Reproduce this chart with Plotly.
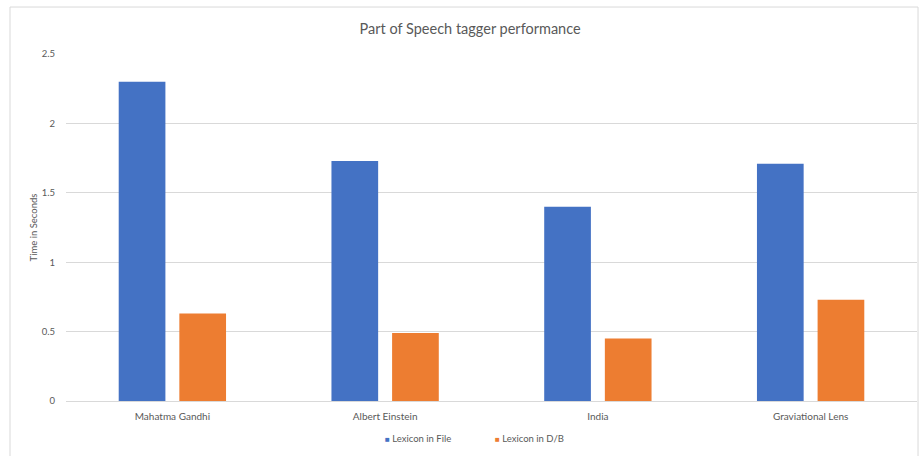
import plotly.graph_objects as go

categories = ["Mahatma Gandhi", "Albert Einstein", "India", "Graviational Lens"]
lexicon_in_file = [2.30, 1.73, 1.40, 1.71]
lexicon_in_db = [0.63, 0.49, 0.45, 0.73]
y_ticks = [0, 0.5, 1, 1.5, 2, 2.5]
y_tick_labels = ["0", "0.5", "1", "1.5", "2", "2.5"]
series_names = ["Lexicon in File", "Lexicon in D/B"]
series_colors = ["#4472C4", "#ED7D31"]

FONT = "Lato, 'Open Sans', sans-serif"
TEXT_GRAY = "#595959"

fig = go.Figure()
for name, values, color in zip(series_names, [lexicon_in_file, lexicon_in_db], series_colors):
    fig.add_trace(go.Bar(name=name, x=categories, y=values, showlegend=False,
                         marker=dict(color=color, line=dict(width=0))))

# compact legend: small colored squares sitting right next to their labels
legend_x = [0.372, 0.502]
annotations = [
    dict(xref="paper", yref="paper", x=lx, y=-0.107, xanchor="left", yanchor="middle",
         showarrow=False,
         text=f"<span style='color:{c};font-size:8px'>■</span> {n}",
         font=dict(family=FONT, size=9.5, color=TEXT_GRAY))
    for lx, n, c in zip(legend_x, series_names, series_colors)
]

fig.update_layout(
    width=920, height=456,
    margin=dict(l=66, r=3, t=54, b=55),
    paper_bgcolor="white", plot_bgcolor="white",
    barmode="group", bargap=0.43, bargroupgap=0.23,
    showlegend=False,
    font=dict(family=FONT, color=TEXT_GRAY, size=9),
    title=dict(text="Part of Speech tagger performance", x=0.511, xanchor="center",
               y=0.937, yanchor="middle",
               font=dict(family=FONT, size=14.5, color=TEXT_GRAY)),
    xaxis=dict(showgrid=False, showline=True, linecolor="#d9d9d9", linewidth=1,
               ticks="", tickfont=dict(size=10, color=TEXT_GRAY), ticklabelstandoff=6),
    yaxis=dict(range=[0, 2.5], tickvals=y_ticks, ticktext=y_tick_labels,
               showgrid=True, gridcolor="#d9d9d9", gridwidth=1,
               zeroline=False, showline=False, ticks="",
               tickfont=dict(size=9.5, color=TEXT_GRAY), ticklabelstandoff=10,
               title=dict(text="Time in Seconds", standoff=2,
                          font=dict(size=9.5, color=TEXT_GRAY))),
    annotations=annotations,
    shapes=[dict(type="rect", xref="paper", yref="paper",
                 x0=-0.0658, x1=1.0012, y0=-0.2, y1=1.1354,
                 line=dict(color="#d9d9d9", width=1), fillcolor="rgba(0,0,0,0)",
                 layer="below")],
)

fig.write_html("out.html")
